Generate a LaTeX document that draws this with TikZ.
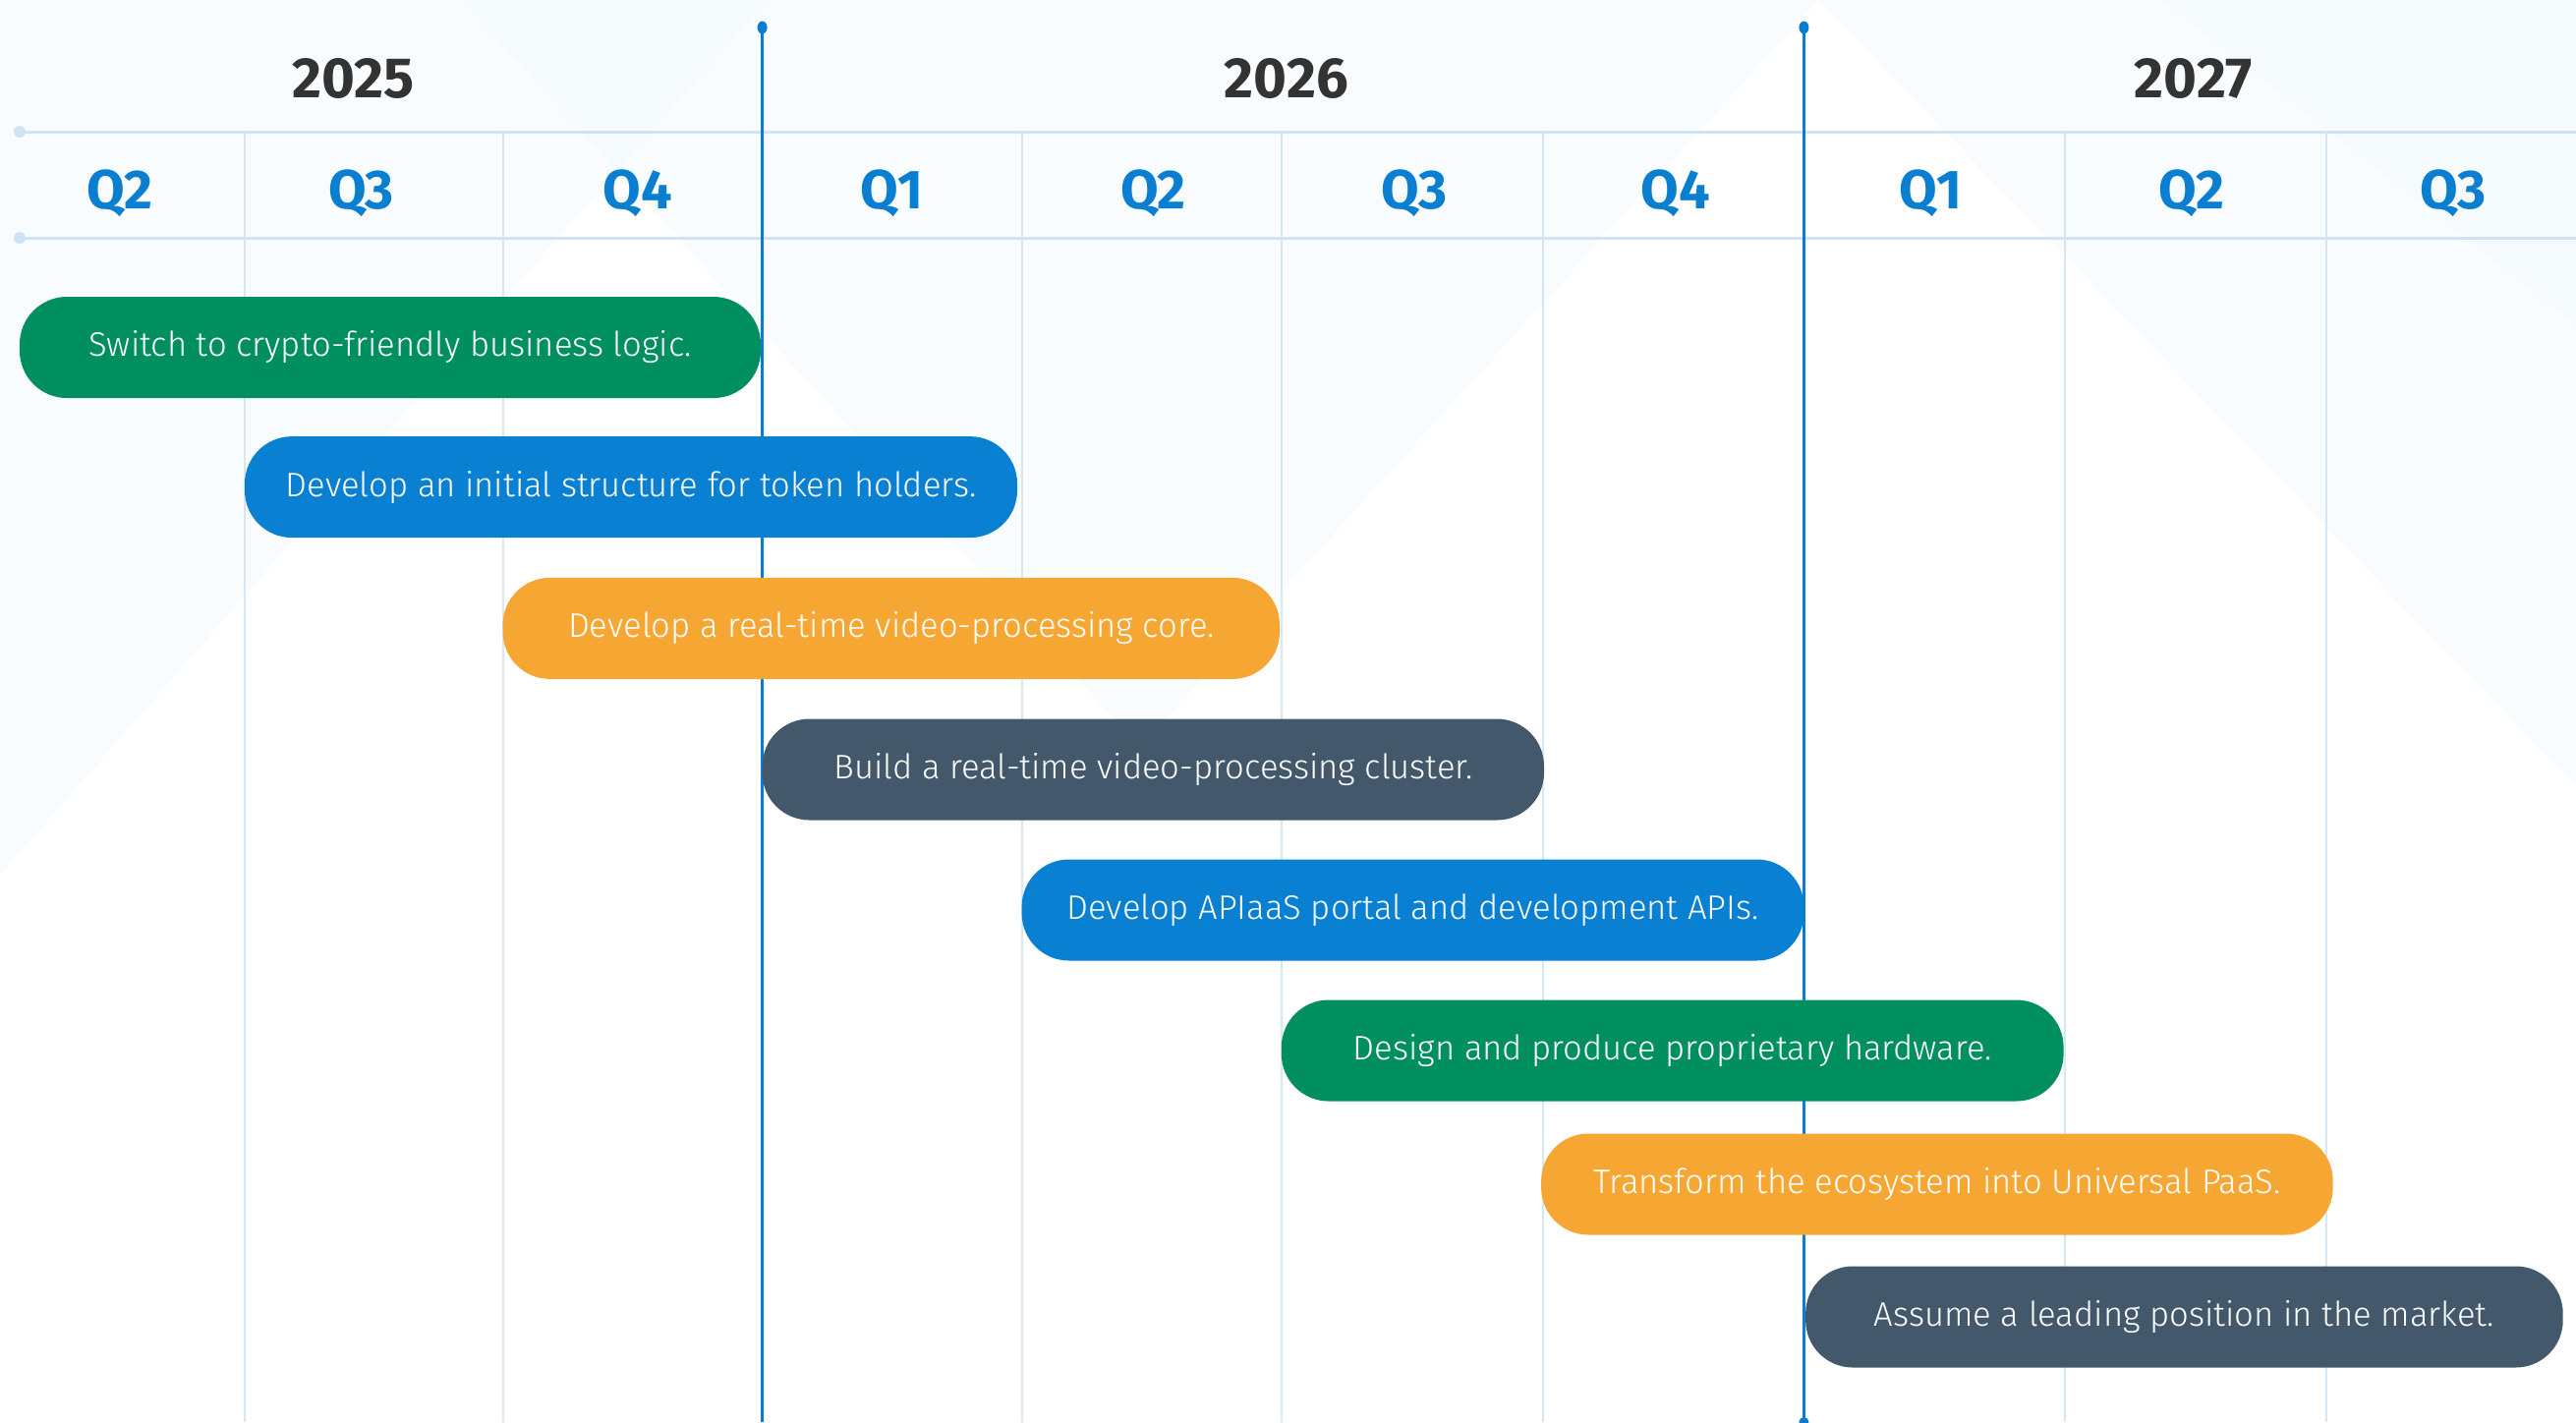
\documentclass[tikz,border=0pt]{standalone}
\usepackage{fontspec}
\setmainfont{Fira Sans}
\newfontfamily\pillfont{Fira Sans Light}
\definecolor{pgreen}{HTML}{028F5F}
\definecolor{pblue}{HTML}{0980D1}
\definecolor{porange}{HTML}{F6A733}
\definecolor{pslate}{HTML}{43596B}
\definecolor{qblue}{HTML}{0A7FD2}
\definecolor{yeartext}{HTML}{333333}
\definecolor{gridline}{HTML}{D5E6F5}
\definecolor{hline}{HTML}{D0E3F4}
\definecolor{bgtint}{HTML}{EDF5FC}
\definecolor{markline}{HTML}{0A7DD1}
\begin{document}
\begin{tikzpicture}[x=0.5pt,y=-0.5pt,
  pill/.style={rounded corners=24pt, minimum height=51.5pt, text=white, inner sep=0pt,
    font=\pillfont\fontsize{17.3}{20}\selectfont},
  qlab/.style={text=qblue, font=\bfseries\fontsize{28}{30}\selectfont, inner sep=0pt},
  ylab/.style={text=yeartext, font=\bfseries\fontsize{29}{31}\selectfont, inner sep=0pt},
  vgrid/.style={draw=gridline, line width=1pt},
  hgrid/.style={draw=hline, line width=1.5pt},
  yearmark/.style={draw=markline, line width=1.4pt},
  bgshape/.style={fill=bgtint, opacity=0.28}]
\useasboundingbox (0,0) rectangle (2621,1447);
\fill[white] (0,0) rectangle (2621,1447);
% background geometric tint
\fill[bgshape] (0,0) -- (780,0) -- (0,890) -- cycle;
\fill[bgshape] (470,0) -- (1850,0) -- (1160,760) -- cycle;
\fill[bgshape] (1850,0) -- (2621,0) -- (2621,800) -- cycle;
\fill[bgshape] (2200,0) -- (2621,0) -- (2621,330) -- cycle;
% horizontal header lines
\coordinate (h1s) at (20,134); \coordinate (h1e) at (2621,134);
\coordinate (h2s) at (20,242); \coordinate (h2e) at (2621,242);
\draw[hgrid] (h1s) -- (h1e);
\draw[hgrid] (h2s) -- (h2e);
\fill[hline] (h1s) circle[radius=6];
\fill[hline] (h2s) circle[radius=6];
% quarter grid lines
\foreach \x in {249,511.5,1039.7,1303.8,1569.6,2101,2367}{
  \draw[vgrid] (\x,134) -- (\x,1447);
}
% year boundary lines
\coordinate (ya) at (775.6,28); \coordinate (yab) at (775.6,1447);
\coordinate (yb) at (1835.4,28); \coordinate (ybb) at (1835.4,1447);
\draw[yearmark] (ya) -- (yab);
\draw[yearmark] (yb) -- (ybb);
\fill[markline] (ya) ellipse[x radius=5, y radius=6.5];
\fill[markline] (yb) ellipse[x radius=5, y radius=6.5];
\fill[markline] (ybb) ellipse[x radius=5, y radius=5];
% year labels
\node[ylab] (y2025) at (359.4,80) {2025};
\node[ylab] (y2026) at (1308.9,80) {2026};
\node[ylab] (y2027) at (2231.6,80) {2027};
% quarter labels
\node[qlab] (q1) at (122,197) {Q2};
\node[qlab] (q2) at (367.7,197) {Q3};
\node[qlab] (q3) at (648.6,197) {Q4};
\node[qlab] (q4) at (907.7,197) {Q1};
\node[qlab] (q5) at (1173.5,197) {Q2};
\node[qlab] (q6) at (1439,197) {Q3};
\node[qlab] (q7) at (1705,197) {Q4};
\node[qlab] (q8) at (1964,197) {Q1};
\node[qlab] (q9) at (2230,197) {Q2};
\node[qlab] (q10) at (2496,197) {Q3};
% milestone pills
\node[pill, fill=pgreen, minimum width=377pt] (p1) at (397,353.5) {Switch to crypto-friendly business logic.};
\node[pill, fill=pblue, minimum width=393pt] (p2) at (642,495.6) {Develop an initial structure for token holders.};
\node[pill, fill=porange, minimum width=395.25pt] (p3) at (906.8,639.4) {Develop a real-time video-processing core.};
\node[pill, fill=pslate, minimum width=397.7pt] (p4) at (1173.3,783) {Build a real-time video-processing cluster.};
\node[pill, fill=pblue, minimum width=397.9pt] (p5) at (1437.5,926) {Develop APIaaS portal and development APIs.};
\node[pill, fill=pgreen, minimum width=397.9pt] (p6) at (1701.7,1069) {Design and produce proprietary hardware.};
\node[pill, fill=porange, minimum width=402.8pt] (p7) at (1970.9,1205) {Transform the ecosystem into Universal PaaS.};
\node[pill, fill=pslate, minimum width=385.3pt] (p8) at (2222.4,1340) {Assume a leading position in the market.};
\end{tikzpicture}
\end{document}
